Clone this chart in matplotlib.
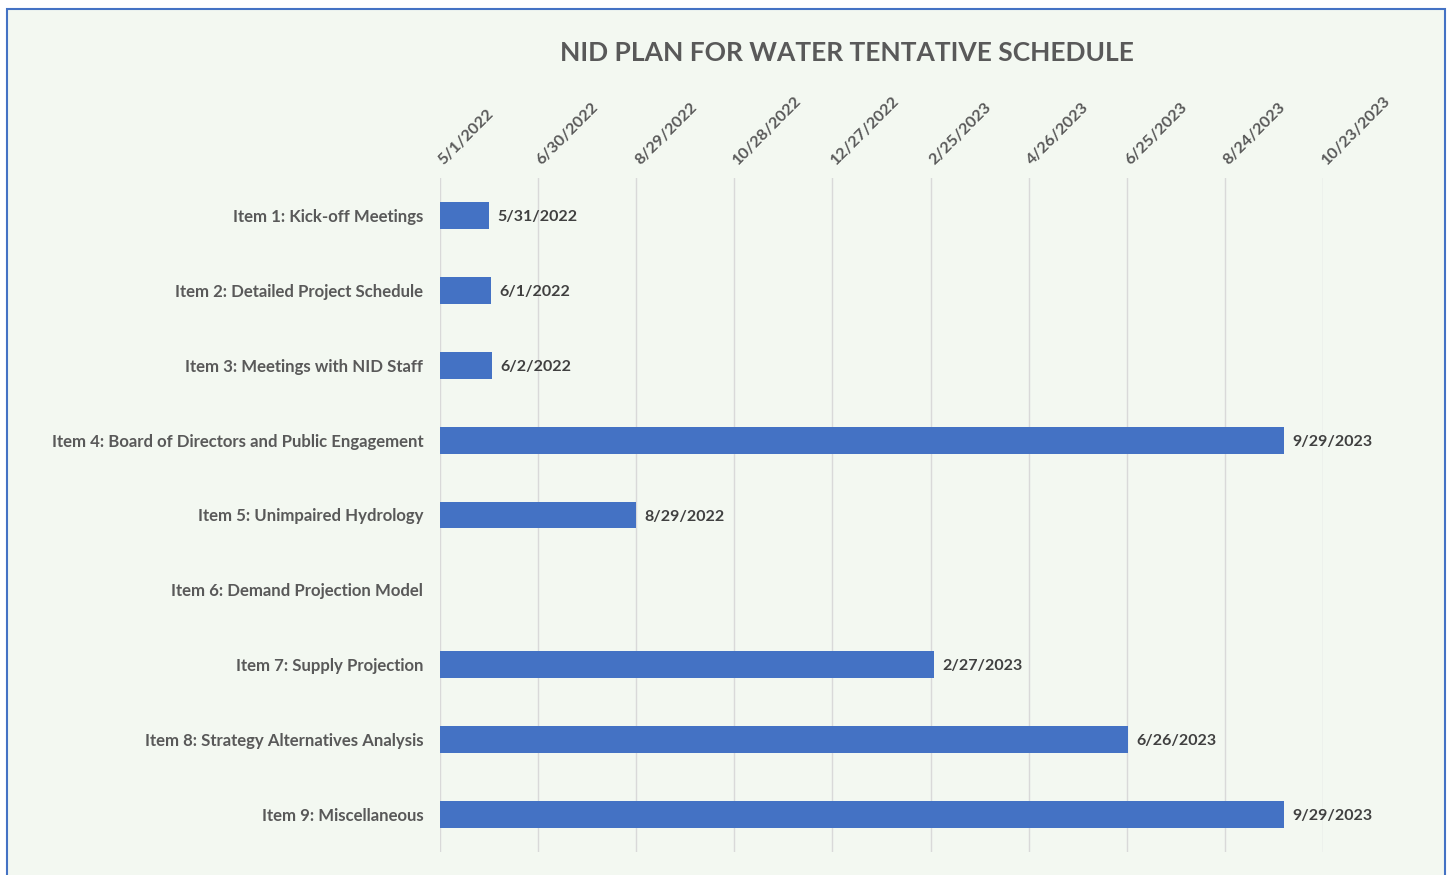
import matplotlib
matplotlib.use("Agg")
import matplotlib.pyplot as plt
import matplotlib.dates as mdates
import matplotlib.transforms as mtransforms
from matplotlib.patches import Rectangle
import datetime as dt

categories = [
    "Item 1: Kick-off Meetings",
    "Item 2: Detailed Project Schedule",
    "Item 3: Meetings with NID Staff",
    "Item 4: Board of Directors and Public Engagement",
    "Item 5: Unimpaired Hydrology",
    "Item 6: Demand Projection Model",
    "Item 7: Supply Projection",
    "Item 8: Strategy Alternatives Analysis",
    "Item 9: Miscellaneous",
]
start_date = "2022-05-01"
end_dates = ["2022-05-31", "2022-06-01", "2022-06-02", "2023-09-29", "2022-08-29",
             None, "2023-02-27", "2023-06-26", "2023-09-29"]
tick_dates = ["2022-05-01", "2022-06-30", "2022-08-29", "2022-10-28", "2022-12-27",
              "2023-02-25", "2023-04-26", "2023-06-25", "2023-08-24", "2023-10-23"]
title = "NID PLAN FOR WATER TENTATIVE SCHEDULE"

FONT = ["Lato", "DejaVu Sans"]
plt.rcParams["font.family"] = FONT

def d(s):
    return dt.date.fromisoformat(s)

def fmt(date):
    return f"{date.month}/{date.day}/{date.year}"

W, H = 1451, 875
fig = plt.figure(figsize=(W / 100, H / 100), dpi=100)
fig.patch.set_facecolor("white")
fig.patches.append(Rectangle((7 / W, -0.01), (1445 - 7) / W, 1 - 9 / H + 0.01,
                             transform=fig.transFigure, facecolor="#f3f8f1",
                             edgecolor="#4472c4", linewidth=1.5, zorder=-10))

ax = fig.add_axes([440 / W, 1 - 852 / H, (1323 - 440) / W, (852 - 178) / H])
ax.set_facecolor("none")

s = mdates.date2num(d(start_date))
for i, e in enumerate(end_dates):
    if e is None:
        continue
    en = mdates.date2num(d(e))
    ax.barh(i, en - s, left=s, height=0.36, color="#4472c4", zorder=3)
    ax.annotate(fmt(d(e)), xy=(en, i), xytext=(6, 0), textcoords="offset points",
                ha="left", va="center_baseline", fontsize=11.5, fontweight="bold",
                color="#404040", family=FONT)

ticks = [mdates.date2num(d(t)) for t in tick_dates]
ax.set_xlim(ticks[0], ticks[-1])
ax.set_ylim(len(categories) - 0.5, -0.5)
ax.set_yticks(range(len(categories)))
ax.set_yticklabels(categories, fontsize=12.1, fontweight="bold", color="#595959")
for lab in ax.get_yticklabels():
    lab.set_verticalalignment("center_baseline")
ax.set_xticks(ticks)
ax.tick_params(axis="x", labelbottom=False, labeltop=False, length=0)
ax.tick_params(axis="y", length=0, pad=12)

# rotated date labels above the plot area
trans = mtransforms.blended_transform_factory(ax.transData, ax.transAxes)
trans = trans + mtransforms.ScaledTranslation(4 / 100, 13 / 100, fig.dpi_scale_trans)
for t, tl in zip(ticks, tick_dates):
    ax.text(t, 1.0, fmt(d(tl)), transform=trans, rotation=45, ha="left",
            va="baseline", rotation_mode="anchor", fontsize=11.7,
            fontweight="bold", color="#595959", clip_on=False)

ax.grid(axis="x", color="#d9d9d9", linewidth=1, zorder=0)
for sp in ax.spines.values():
    sp.set_visible(False)

fig.text(847 / W, 1 - 53 / H, title, ha="center", va="center", fontsize=19,
         fontweight="bold", color="#595959")

fig.savefig("out.png", dpi=100)
